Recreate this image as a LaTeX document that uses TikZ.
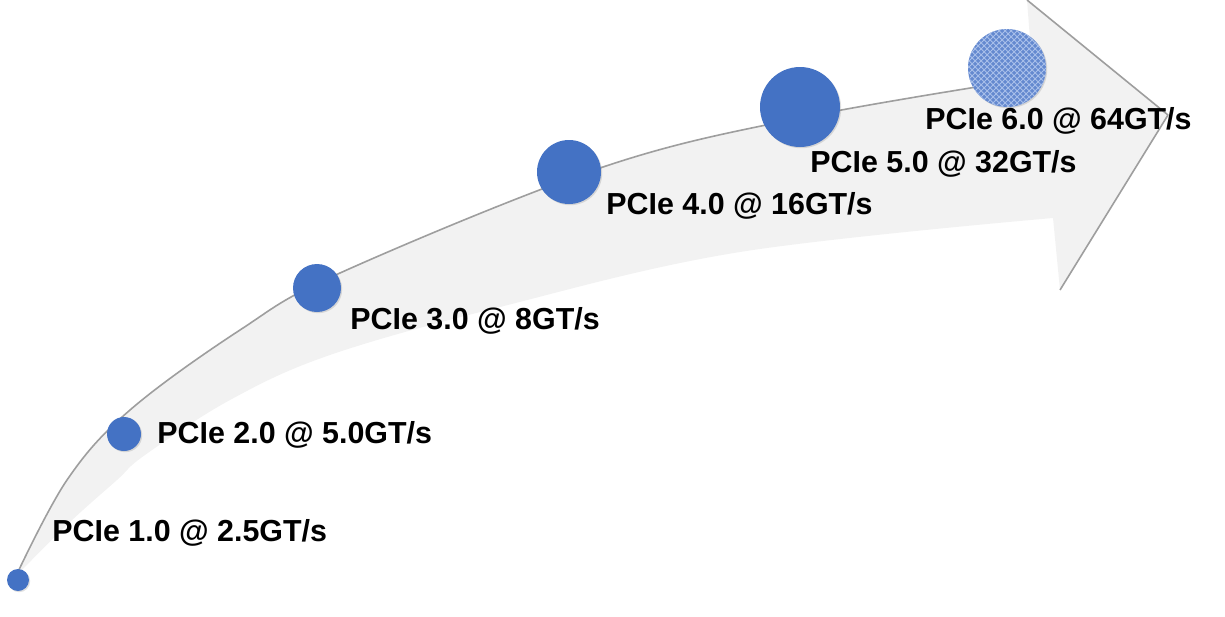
\documentclass[tikz,border=0pt]{standalone}
\usepackage{fontspec}
\setmainfont{Liberation Sans}
\usetikzlibrary{shadows,patterns}
\definecolor{dotblue}{HTML}{4472C4}
\definecolor{band}{HTML}{F2F2F2}
\definecolor{texblue}{HTML}{6489CF}
\definecolor{texlight}{HTML}{A9C0EA}
\begin{document}
\begin{tikzpicture}[x=0.5pt,y=-0.5pt,
  dot/.style={circle, fill=dotblue, inner sep=0pt, draw=none,
    drop shadow={opacity=0.25,shadow xshift=0.6pt,shadow yshift=-0.6pt}},
  lbl/.style={anchor=base west, inner sep=0pt, font=\fontsize{15.2}{18}\selectfont\bfseries},
  edge/.style={black!38, line width=0.8pt}]
\useasboundingbox (0,0) rectangle (1225,616);
% curved arrow band
\fill[band] plot[smooth,tension=0.6] coordinates {(16,576) (67,480) (130,410) (240,330) (340,273) (600,168) (800,118) (1033,78)}
  -- (1027,0) -- (1168,115) -- (1060,290) -- (1053,218)
  -- plot[smooth,tension=0.6] coordinates {(1053,218) (740,252) (500,307) (330,355) (230,400) (145,455) (117,480) (70,522) (16,576)} -- cycle;
\draw[edge] plot[smooth,tension=0.6] coordinates {(16,576) (67,480) (130,410) (240,330) (340,273) (600,168) (800,118) (1033,78)};
\draw[edge, line join=round] (1027,0) -- (1168,115) -- (1060,290);
% milestones
\node[dot, minimum size=11pt] (c1) at (18,580) {};
\node[dot, minimum size=17pt] (c2) at (124,434) {};
\node[dot, minimum size=24pt] (c3) at (317,288) {};
\node[dot, minimum size=32pt] (c4) at (569,172) {};
\node[dot, minimum size=40pt] (c5) at (800,107) {};
\node[circle, fill=texblue, inner sep=0pt, minimum size=39pt,
  drop shadow={opacity=0.25,shadow xshift=0.6pt,shadow yshift=-0.6pt}] (c6) at (1007,68) {};
\fill[pattern=crosshatch, pattern color=texlight] (c6.center) circle (19.5pt);
% labels
\node[lbl] (l1) at (52,541) {PCIe 1.0 @ 2.5GT/s};
\node[lbl] (l2) at (157,443) {PCIe 2.0 @ 5.0GT/s};
\node[lbl] (l3) at (350,329) {PCIe 3.0 @ 8GT/s};
\node[lbl] (l4) at (606,214) {PCIe 4.0 @ 16GT/s};
\node[lbl] (l5) at (810,172) {PCIe 5.0 @ 32GT/s};
\node[lbl] (l6) at (925,129) {PCIe 6.0 @ 64GT/s};
\end{tikzpicture}
\end{document}
